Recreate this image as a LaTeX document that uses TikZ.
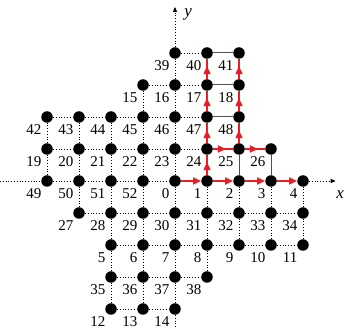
\documentclass[tikz,border=0pt]{standalone}
\usepackage{fontspec}
\setmainfont{Liberation Serif}
\usetikzlibrary{arrows.meta,decorations.markings}
\definecolor{pathred}{RGB}{232,30,38}
\definecolor{edgegray}{RGB}{80,80,80}
\begin{document}
\begin{tikzpicture}[x=32pt,y=32pt,
  vtx/.style={circle,fill=black,inner sep=0pt,minimum size=11.5pt},
  lbl/.style={anchor=east,inner sep=0pt,font=\fontsize{15}{18}\selectfont},
  axlbl/.style={inner sep=0pt,font=\fontsize{17}{20}\selectfont\itshape},
  dotedge/.style={dotted,line width=0.8pt},
  solidedge/.style={edgegray,line width=1pt},
  redend/.style={pathred,line width=2pt,-{Triangle[length=8pt,width=7pt]}},
  redmid/.style={pathred,line width=2pt,postaction={decorate},
    decoration={markings,mark=at position 0.64 with {\arrow{Triangle[length=8pt,width=7pt]}}}},
  axarrow/.style={-{Triangle[length=5pt,width=4pt]}}
]
\useasboundingbox (-5.469,-4.625) rectangle (5.375,5.656);
% vertices with labels
\foreach \i/\j/\l in {0/4/39, 1/4/40, 2/4/41,
  -1/3/15, 0/3/16, 1/3/17, 2/3/18,
  -4/2/42, -3/2/43, -2/2/44, -1/2/45, 0/2/46, 1/2/47, 2/2/48,
  -4/1/19, -3/1/20, -2/1/21, -1/1/22, 0/1/23, 1/1/24, 2/1/25, 3/1/26,
  -4/0/49, -3/0/50, -2/0/51, -1/0/52, 0/0/0, 1/0/1, 2/0/2, 3/0/3, 4/0/4,
  -3/-1/27, -2/-1/28, -1/-1/29, 0/-1/30, 1/-1/31, 2/-1/32, 3/-1/33, 4/-1/34,
  -2/-2/5, -1/-2/6, 0/-2/7, 1/-2/8, 2/-2/9, 3/-2/10, 4/-2/11,
  -2/-3/35, -1/-3/36, 0/-3/37, 1/-3/38,
  -2/-4/12, -1/-4/13, 0/-4/14} {
  \node[vtx] (v\i_\j) at (\i,\j) {};
  \node[lbl] (t\i_\j) at ([xshift=-5.5pt,yshift=-13pt]v\i_\j.center) {\l};
}
% dotted horizontal edges
\foreach \j/\a/\b in {4/0/1, 3/-1/1, 2/-4/1, 1/-4/1, 0/-4/0, -1/-3/4, -2/-2/4, -3/-2/1, -4/-2/0} {
  \pgfmathtruncatemacro\bb{\b-1}
  \foreach \i in {\a,...,\bb} {
    \pgfmathtruncatemacro\n{\i+1}
    \draw[dotedge] (v\i_\j) -- (v\n_\j);
  }
}
% dotted vertical edges
\foreach \i/\a/\b in {-4/0/2, -3/-1/2, -2/-4/2, -1/-4/3, 0/-4/4, 1/-3/0, 2/-2/0, 3/-2/0, 4/-2/0} {
  \pgfmathtruncatemacro\bb{\b-1}
  \foreach \j in {\a,...,\bb} {
    \pgfmathtruncatemacro\n{\j+1}
    \draw[dotedge] (v\i_\j) -- (v\i_\n);
  }
}
% solid edges
\draw[solidedge] (v1_2) -- (v2_2);
\draw[solidedge] (v1_3) -- (v2_3);
\draw[solidedge] (v1_4) -- (v2_4);
\draw[solidedge] (v2_0) -- (v2_1);
\draw[solidedge] (v3_0) -- (v3_1);
% red path along x axis
\draw[redend] (v0_0) -- (v1_0);
\draw[redend] (v1_0) -- (v2_0);
\draw[redend] (v2_0) -- (v3_0);
\draw[redend] (v3_0) -- (v4_0);
% red path elsewhere
\draw[redmid] (v1_0) -- (v1_1);
\draw[redmid] (v1_1) -- (v1_2);
\draw[redmid] (v1_2) -- (v1_3);
\draw[redmid] (v1_3) -- (v1_4);
\draw[redmid] (v1_1) -- (v2_1);
\draw[redmid] (v2_1) -- (v3_1);
\draw[redmid] (v2_1) -- (v2_2);
\draw[redmid] (v2_2) -- (v2_3);
\draw[redmid] (v2_3) -- (v2_4);
% axes
\coordinate (xl) at (-5.469,0);
\coordinate (xr) at (5.02,0);
\coordinate (yt) at (0,5.44);
\coordinate (yb) at (0,-4.625);
\draw[dotedge] (xl) -- (v-4_0);
\draw[dotedge,axarrow] (v4_0) -- (xr);
\draw[dotedge,axarrow] (v0_4) -- (yt);
\draw[dotedge] (v0_-4) -- (yb);
\node[axlbl] (xlab) at (5.16,-0.44) {x};
\node[axlbl] (ylab) at (0.41,5.2) {y};
\end{tikzpicture}
\end{document}
